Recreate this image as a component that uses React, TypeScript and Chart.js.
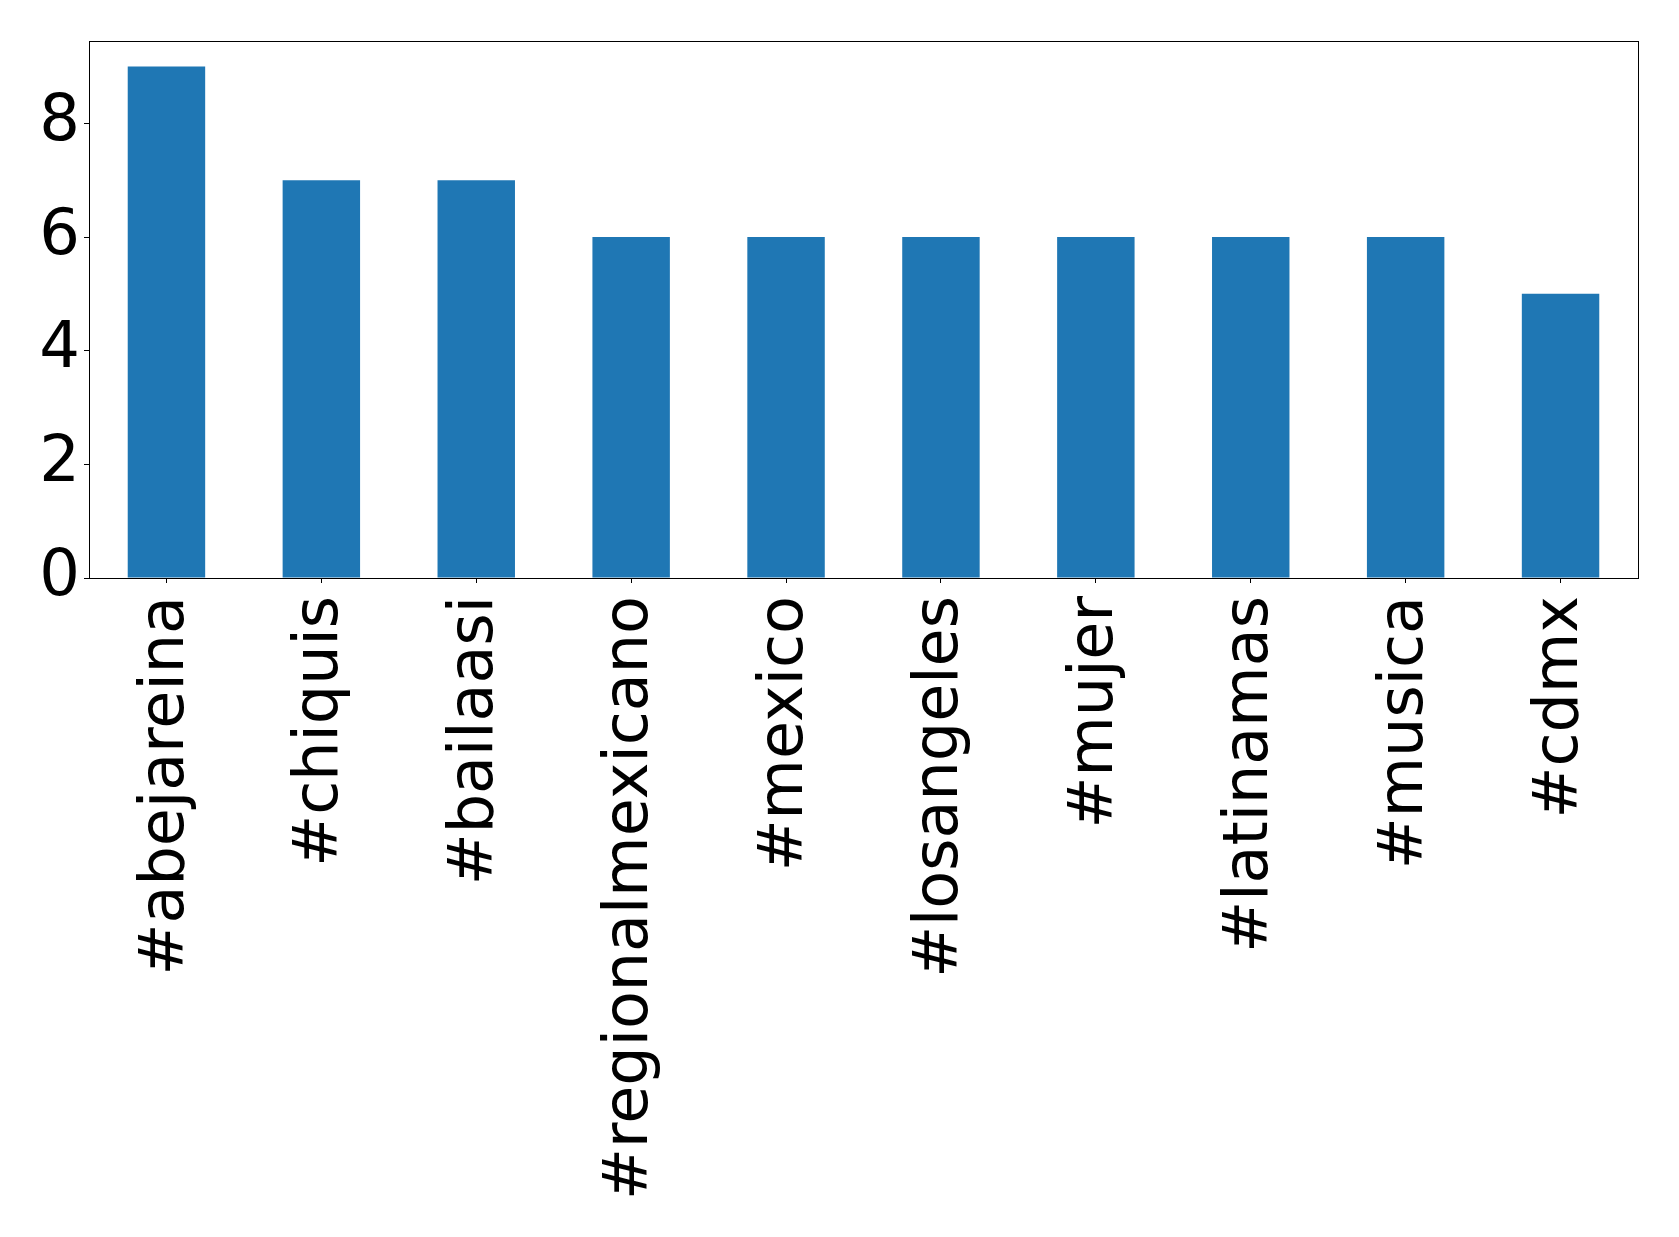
import React, { useEffect, useRef } from "react";
import { Chart, registerables } from "chart.js";

Chart.register(...registerables);

const categories = [
  "#abejareina",
  "#chiquis",
  "#bailaasi",
  "#regionalmexicano",
  "#mexico",
  "#losangeles",
  "#mujer",
  "#latinamas",
  "#musica",
  "#cdmx",
];
const counts = [9, 7, 7, 6, 6, 6, 6, 6, 6, 5];
const yTicks = [0, 2, 4, 6, 8];
const yMax = 9.45;

const framePlugin = {
  id: "frame",
  afterDraw(chart: any) {
    const { ctx, chartArea } = chart;
    ctx.save();
    ctx.strokeStyle = "#000";
    ctx.lineWidth = 1;
    ctx.strokeRect(
      Math.round(chartArea.left) + 0.5,
      Math.round(chartArea.top) + 0.5,
      Math.round(chartArea.right - chartArea.left),
      Math.round(chartArea.bottom - chartArea.top)
    );
    ctx.restore();
  },
};

export default function App() {
  const ref = useRef<HTMLCanvasElement | null>(null);
  useEffect(() => {
    if (!ref.current) return;
    const xFont = { family: "'DejaVu Sans'", size: 62 };
    const yFont = { family: "'DejaVu Sans'", size: 64 };
    const chart = new Chart(ref.current, {
      type: "bar",
      data: {
        labels: categories,
        datasets: [
          {
            data: counts,
            backgroundColor: "#1f77b4",
            borderWidth: 0,
            categoryPercentage: 1,
            barPercentage: 0.5,
          },
        ],
      },
      options: {
        responsive: false,
        animation: false,
        layout: { padding: { top: 41, right: 41, left: 0, bottom: 0 } },
        plugins: { legend: { display: false }, tooltip: { enabled: false } },
        scales: {
          x: {
            grid: {
              offset: false,
              drawOnChartArea: false,
              drawTicks: true,
              tickLength: 5,
              color: "#000",
            },
            border: { color: "#000", width: 1 },
            ticks: {
              color: "#000",
              font: xFont,
              minRotation: 90,
              maxRotation: 90,
              autoSkip: false,
              padding: 13,
            },
            afterFit(scale: any) {
              scale.height = 659;
              scale.paddingLeft = 0;
              scale.paddingRight = 0;
            },
          },
          y: {
            min: 0,
            max: yMax,
            grid: {
              drawOnChartArea: false,
              drawTicks: true,
              tickLength: 5,
              color: "#000",
            },
            border: { color: "#000", width: 1 },
            ticks: { color: "#000", font: yFont, padding: 4 },
            afterBuildTicks(scale: any) {
              scale.ticks = yTicks.map((v) => ({ value: v }));
            },
            afterFit(scale: any) {
              scale.width = 89;
              scale.paddingTop = 0;
              scale.paddingBottom = 0;
            },
          },
        },
      },
      plugins: [framePlugin],
    });
    return () => chart.destroy();
  }, []);
  return (
    <div style={{ position: "absolute", left: 0, top: 0, width: 1679, height: 1237, background: "#fff" }}>
      <canvas ref={ref} width={1679} height={1237} />
    </div>
  );
}
